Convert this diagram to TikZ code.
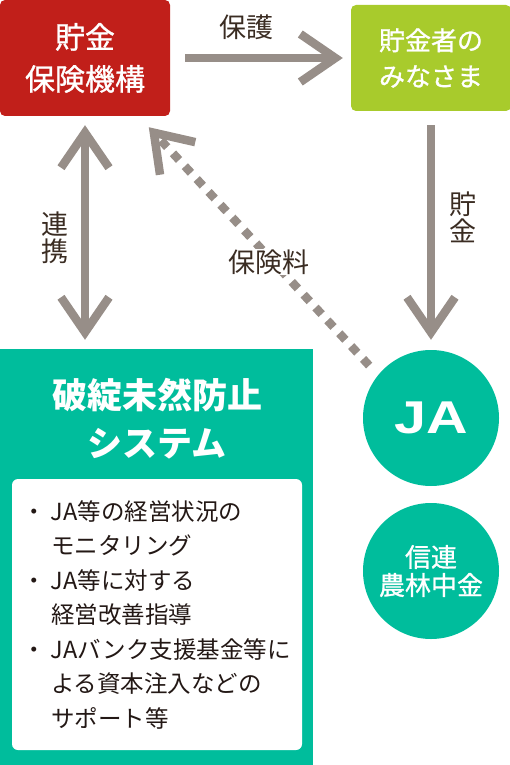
\documentclass[tikz,border=0pt]{standalone}
\usepackage{fontspec}
\usepackage{graphicx}
\setmainfont{Noto Sans CJK JP}
\newfontfamily\latfont{Liberation Sans}
\newfontfamily\medfont{Noto Sans CJK JP}[FakeBold=1]
\usetikzlibrary{arrows.meta}
\definecolor{kikoured}{HTML}{C11F1A}
\definecolor{minagreen}{HTML}{A8CB2C}
\definecolor{jateal}{HTML}{00BD9C}
\definecolor{arrgray}{HTML}{978E88}
\definecolor{lblbrown}{HTML}{3A2C22}
\definecolor{listtext}{HTML}{231815}
\newcommand{\blt}{\makebox[29pt][l]{・}}
\newcommand{\ind}{\hspace*{29pt}}
\begin{document}
\begin{tikzpicture}[x=1pt,y=-1pt,
  box/.style={rectangle, rounded corners=5pt, inner sep=0pt, text=white, align=center},
  disc/.style={circle, fill=jateal, minimum size=136pt, inner sep=0pt, text=white, align=center},
  lbl/.style={text=lblbrown, inner sep=1pt, align=center, font=\fontsize{27}{27}\selectfont},
  arr/.style={draw=arrgray, line width=8.5pt, -{Straight Barb[sharp,length=35pt,width=48pt]}},
  dblarr/.style={draw=arrgray, line width=8.5pt, {Straight Barb[sharp,length=35pt,width=48pt]}-{Straight Barb[sharp,length=35pt,width=48pt]}},
  dotarr/.style={arr, dash pattern=on 9pt off 8.5pt}]
\useasboundingbox (0,0) rectangle (510,765);
\node[box, fill=kikoured, minimum width=170pt, minimum height=116pt, font=\medfont\fontsize{30}{42}\selectfont] (kikou) at (85,58) {貯金\\保険機構};
\node[box, fill=minagreen, minimum width=160pt, minimum height=106pt, font=\medfont\fontsize{26}{36}\selectfont] (minasama) at (431,58) {貯金者の\\みなさま};
\node[rectangle, fill=jateal, minimum width=313pt, minimum height=416pt, inner sep=0pt] (system) at (156.5,557) {};
\node[text=white, align=center, inner sep=0pt, font=\bfseries\fontsize{35}{48}\selectfont] (systitle) at (157,419) {破綻未然防止\\システム};
\node[rectangle, rounded corners=6pt, fill=white, minimum width=290pt, minimum height=271pt, text width=270pt, inner xsep=10pt, align=left, text=listtext, font=\fontsize{23.5}{34.5}\selectfont] (kadai) at (157,614.5)
  {\blt JA等の経営状況の\\\ind モニタリング\\\blt JA等に対する\\\ind 経営改善指導\\\blt JAバンク支援基金等に\\\ind よる資本注入などの\\\ind サポート等};
\node[disc] (ja) at (431,418) {\latfont\bfseries\fontsize{46}{46}\selectfont\scalebox{1.25}[1]{JA}};
\node[disc, font=\medfont\fontsize{26}{28}\selectfont] (shinren) at (431,571) {信連\\農林中金};
\draw[arr, shorten <=15pt, shorten >=8pt] (kikou.east) -- (minasama.west);
\draw[arr, shorten <=14pt, shorten >=10pt] (minasama.south) -- (ja.north);
\draw[dblarr, shorten <=9pt, shorten >=9pt] (kikou.south) -- (kikou.south |- system.north);
\draw[dotarr, shorten <=13pt, shorten >=15pt] (ja.141) -- (kikou);
\node[lbl] (hogo) at (246,27) {保護};
\node[lbl] (chokin) at (463,217) {貯\\金};
\node[lbl] (renkei) at (55,238) {連\\携};
\node[lbl, fill=white] (hokenryo) at (269,262) {保険料};
\end{tikzpicture}
\end{document}
